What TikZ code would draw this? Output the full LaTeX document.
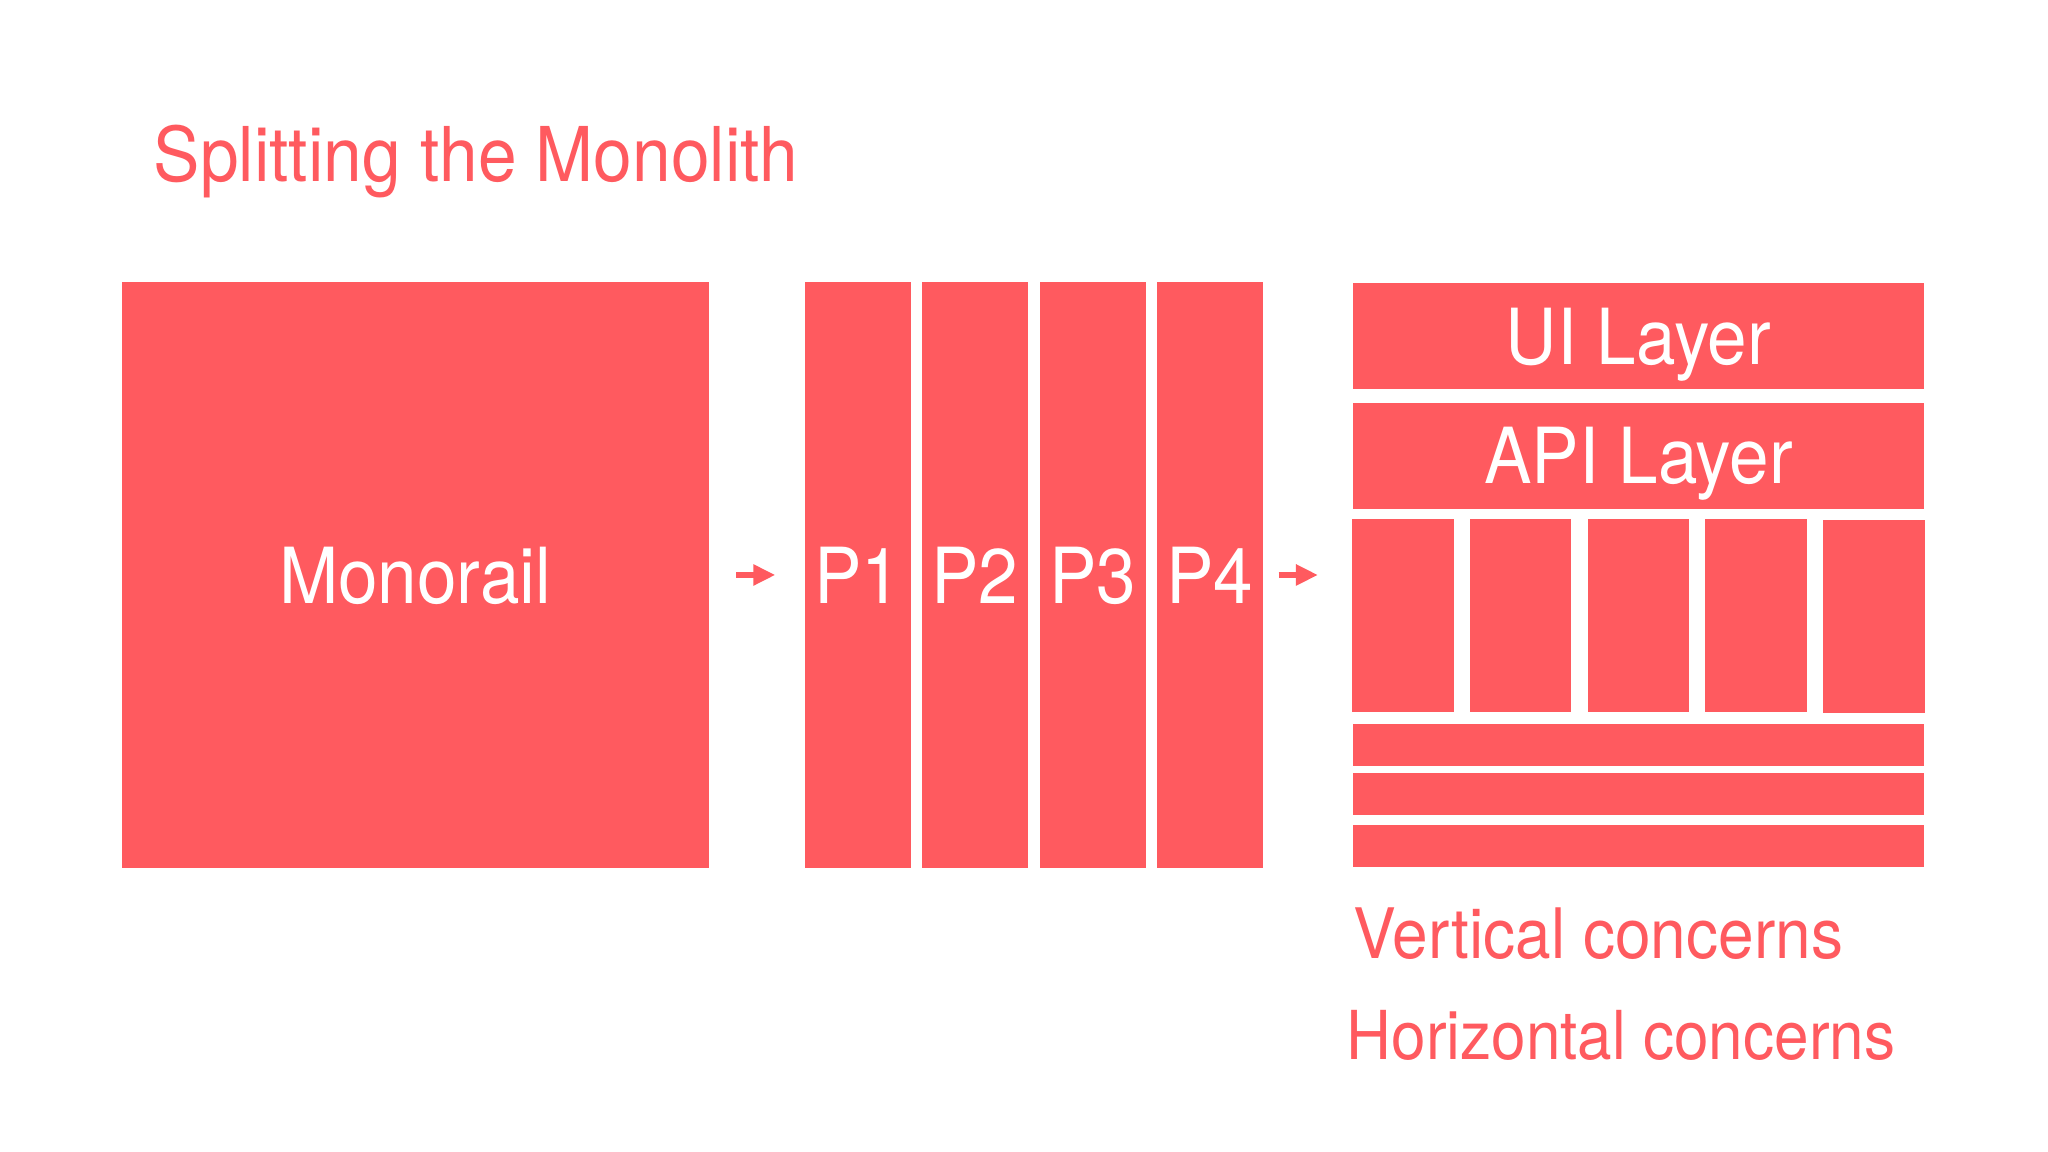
\documentclass[tikz,border=0pt]{standalone}
\usepackage{fontspec}
\setmainfont{TeX Gyre Heros}[FakeStretch=0.92]
\usepackage{tikz}
\usetikzlibrary{arrows.meta}
\usetikzlibrary{calc}
\definecolor{rausch}{RGB}{255,90,95}
\tikzset{
	%	block/.style={rectangle,draw,minimum size=1em},
	block/.style={rectangle,fill=rausch,inner sep=0pt,text=white,text depth=0pt,
		font=\fontsize{22pt}{26pt}\selectfont},
	caption/.style={text=rausch,inner sep=0pt,anchor=base west},
	edge/.style={-{Triangle[length=2.2mm,width=2mm]},line width=1.6pt,draw=rausch}
}
\begin{document}
\begin{tikzpicture}
	\path[use as bounding box,fill=white] (0,0) rectangle (20.48,11.52);
	
	\node[caption,font=\fontsize{21.5pt}{25pt}\selectfont] (title) at (1.53, 9.70) {Splitting the Monolith};
	
	\node[block,minimum width=5.875cm,minimum height=5.86cm] (mono) at (4.1525, 5.77) {Monorail};
	
	\node[block,minimum width=1.06cm,minimum height=5.86cm] (p1) at (8.575, 5.77) {P1};
	\node[block,minimum width=1.06cm,minimum height=5.86cm] (p2) at (9.75, 5.77) {P2};
	\node[block,minimum width=1.06cm,minimum height=5.86cm] (p3) at (10.925, 5.77) {P3};
	\node[block,minimum width=1.06cm,minimum height=5.86cm] (p4) at (12.10, 5.77) {P4};
	
	\node[block,minimum width=5.71cm,minimum height=1.063cm] (ui) at (16.385, 8.16) {UI Layer};
	\node[block,minimum width=5.71cm,minimum height=1.06cm] (api) at (16.385, 6.963) {API Layer};
	
	\node[block,minimum width=1.015cm,minimum height=1.93cm] (col1) at (14.03, 5.365) {};
	\node[block,minimum width=1.015cm,minimum height=1.93cm] (col2) at (15.207, 5.365) {};
	\node[block,minimum width=1.015cm,minimum height=1.93cm] (col3) at (16.384, 5.365) {};
	\node[block,minimum width=1.015cm,minimum height=1.93cm] (col4) at (17.561, 5.365) {};
	\node[block,minimum width=1.015cm,minimum height=1.93cm] (col5) at (18.738, 5.35) {};
	
	\node[block,minimum width=5.71cm,minimum height=0.417cm] (bar1) at (16.385, 4.072) {};
	\node[block,minimum width=5.71cm,minimum height=0.414cm] (bar2) at (16.385, 3.58) {};
	\node[block,minimum width=5.71cm,minimum height=0.414cm] (bar3) at (16.385, 3.06) {};
	
	\node[caption,font=\fontsize{19.8pt}{24pt}\selectfont] (vert) at (13.53, 1.937) {Vertical concerns};
	\node[caption,font=\fontsize{19.2pt}{24pt}\selectfont] (horiz) at (13.46, 0.92) {Horizontal concerns};
	
	\coordinate (layers) at (col1.west |- p4.east);
	
	\draw[edge,shorten <=0.267cm,shorten >=0.285cm] (mono.east) to (p1.west);
	\draw[edge,shorten <=0.15cm,shorten >=0.336cm] (p4.east) to (layers);
\end{tikzpicture}
\end{document}
